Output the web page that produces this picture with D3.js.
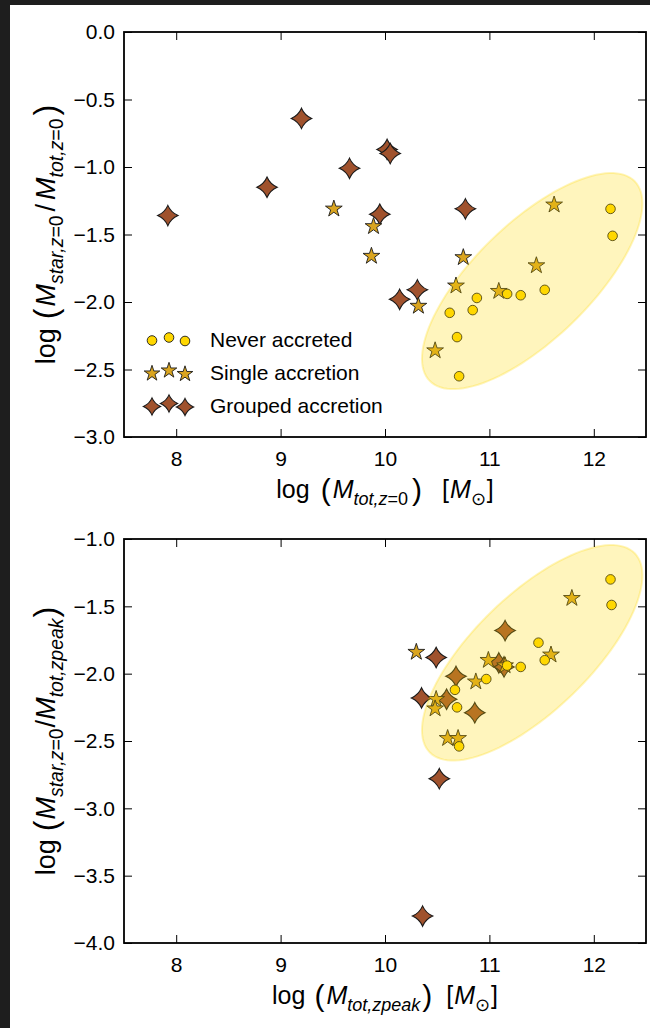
<!DOCTYPE html>
<html>
<head>
<meta charset="utf-8">
<script src="https://cdn.jsdelivr.net/npm/d3@7"></script>
<style>
	body { margin: 0; background: #1e1e1e; }
	svg { display: block; }
</style>
</head>
<body>
<script>

//----------------------------
// Data
//----------------------------

// top panel: x = log Mtot,z=0
var topNeverX = [12.16, 12.18, 11.53, 11.30, 11.17, 10.88, 10.84, 10.62, 10.69, 10.71];
var topNeverY = [-1.31, -1.51, -1.91, -1.95, -1.94, -1.97, -2.06, -2.08, -2.26, -2.55];
var topSingleX = [9.51, 9.89, 9.87, 10.75, 10.68, 10.32, 11.09, 11.62, 11.45, 10.48];
var topSingleY = [-1.31, -1.44, -1.66, -1.67, -1.88, -2.03, -1.92, -1.28, -1.73, -2.36];
var topGroupedX = [7.92, 9.20, 8.87, 9.66, 10.02, 10.05, 9.95, 10.77, 10.14, 10.31];
var topGroupedY = [-1.36, -0.64, -1.15, -1.01, -0.87, -0.90, -1.35, -1.31, -1.98, -1.91];

// bottom panel: x = log Mtot,zpeak
var botNeverX = [12.16, 12.17, 11.47, 11.53, 11.30, 11.17, 10.97, 10.67, 10.69, 10.71];
var botNeverY = [-1.30, -1.49, -1.77, -1.90, -1.95, -1.94, -2.04, -2.12, -2.25, -2.54];
var botSingleX = [10.30, 11.79, 11.59, 10.99, 11.15, 10.87, 10.49, 10.48, 10.60, 10.70];
var botSingleY = [-1.84, -1.44, -1.86, -1.90, -1.94, -2.06, -2.19, -2.26, -2.48, -2.48];
var botGroupedX = [10.49, 11.15, 11.09, 11.14, 10.68, 10.35, 10.59, 10.86, 10.52, 10.36];
var botGroupedY = [-1.88, -1.68, -1.92, -1.95, -2.02, -2.18, -2.19, -2.29, -2.78, -3.80];

// shaded ellipse: centre and two conjugate semi-axis vectors, data units
var ellCentre = [11.41, -1.845];
var ellAxisA = [0.982, 0.739];
var ellAxisB = [0.388, -0.307];

var xTicks = [8, 9, 10, 11, 12];
var topYTicks = [0, -0.5, -1, -1.5, -2, -2.5, -3];
var botYTicks = [-1, -1.5, -2, -2.5, -3, -3.5, -4];
var legendLabels = ["Never accreted", "Single accretion", "Grouped accretion"];

//----------------------------
// Layout / style
//----------------------------

var totwidth = 650,
	totheight = 1028,
	plotLeft = 124,
	plotRight = 646,
	colNever = "#ffd700",
	colSingle = "#daa520",
	colGrouped = "#a0522d",
	edgeCol = "#1a1a1a",
	tickFont = "'Liberation Sans', Arial, sans-serif";

var svg = d3.select("body").append("svg")
	.attr("width", totwidth)
	.attr("height", totheight);

// white figure area on dark page
svg.append("rect")
	.attr("x", 10)
	.attr("y", 5)
	.attr("width", totwidth - 10)
	.attr("height", totheight - 5)
	.attr("fill", "white");

//----------------------------
// Marker paths
//----------------------------

function starPath(R) {
	var r = R * 0.382, pts = [];
	for (var k = 0; k < 10; k++) {
		var a = -Math.PI / 2 + k * Math.PI / 5;
		var rr = (k % 2 === 0) ? R : r;
		pts.push([rr * Math.cos(a), rr * Math.sin(a)]);
	}
	return "M" + pts.map(function(p) { return p[0].toFixed(2) + "," + p[1].toFixed(2); }).join("L") + "Z";
}

// four pointed star with concave sides
function sparklePath(R) {
	var k = R * 0.3;
	return "M0," + (-R) +
		"Q" + k + "," + (-k) + " " + R + ",0" +
		"Q" + k + "," + k + " 0," + R +
		"Q" + (-k) + "," + k + " " + (-R) + ",0" +
		"Q" + (-k) + "," + (-k) + " 0," + (-R) + "Z";
}

function drawMarker(g, kind, cx, cy, big) {
	if (kind === "never") {
		g.append("circle")
			.attr("cx", cx).attr("cy", cy)
			.attr("r", 4.8)
			.attr("fill", colNever)
			.attr("stroke", edgeCol)
			.attr("stroke-width", 0.9);
	} else if (kind === "single") {
		g.append("path")
			.attr("d", starPath(big ? 8.8 : 8.2))
			.attr("transform", "translate(" + cx + "," + cy + ")")
			.attr("fill", colSingle)
			.attr("stroke", edgeCol)
			.attr("stroke-width", 0.9)
			.attr("stroke-linejoin", "miter");
	} else {
		g.append("path")
			.attr("d", sparklePath(big ? 10.2 : 8.6))
			.attr("transform", "translate(" + cx + "," + cy + ")")
			.attr("fill", colGrouped)
			.attr("stroke", edgeCol)
			.attr("stroke-width", 1.1);
	}
}

//----------------------------
// Math-ish label builder
//----------------------------

function mathLabel(g, parts, size) {
	var text = g.append("text")
		.attr("font-family", tickFont)
		.attr("font-size", size)
		.attr("fill", "black")
		.attr("text-anchor", "middle");
	var shift = 0;
	parts.forEach(function(p) {
		var want = p.sub ? size * 0.28 : (p.big ? size * 0.06 : 0);
		var ts = text.append("tspan")
			.attr("dy", want - shift)
			.attr("font-size", p.sub ? size * 0.72 : (p.big ? size * 1.2 : size))
			.attr("font-style", p.it ? "italic" : "normal")
			.text(p.t);
		if (p.sp) ts.attr("dx", p.sp);
		shift = want;
	});
	return text;
}

//----------------------------
// Panel routine
//----------------------------

function drawPanel(cfg) {

	var x = d3.scaleLinear().domain([7.5, 12.5]).range([plotLeft, plotRight]);
	var y = d3.scaleLinear().domain(cfg.ydomain).range([cfg.bottom, cfg.top]);

	var g = svg.append("g");

	// points: grouped first, then single, then never
	var pts = g.append("g").attr("class", "points");
	cfg.grouped[0].forEach(function(d, i) { drawMarker(pts, "grouped", x(d), y(cfg.grouped[1][i]), true); });
	cfg.single[0].forEach(function(d, i) { drawMarker(pts, "single", x(d), y(cfg.single[1][i]), true); });
	cfg.never[0].forEach(function(d, i) { drawMarker(pts, "never", x(d), y(cfg.never[1][i]), true); });

	// translucent ellipse on top
	var ell = d3.range(0, 361, 3).map(function(deg) {
		var t = deg * Math.PI / 180;
		return [x(ellCentre[0] + Math.cos(t) * ellAxisA[0] + Math.sin(t) * ellAxisB[0]),
				y(ellCentre[1] + Math.cos(t) * ellAxisA[1] + Math.sin(t) * ellAxisB[1])];
	});
	g.append("path")
		.attr("d", d3.line().curve(d3.curveLinearClosed)(ell))
		.attr("fill", colNever)
		.attr("fill-opacity", 0.26)
		.attr("stroke", colNever)
		.attr("stroke-opacity", 0.26)
		.attr("stroke-width", 2);

	// axes, ticks inside on all four sides
	var fmt = function(v) { return d3.format(".1f")(v).replace("-", "\u2212"); };

	g.append("g")
		.attr("transform", "translate(0," + cfg.bottom + ")")
		.call(d3.axisBottom(x).tickValues(xTicks).tickSize(-8).tickPadding(14).tickFormat(d3.format("d")));
	g.append("g")
		.attr("transform", "translate(0," + cfg.top + ")")
		.call(d3.axisTop(x).tickValues(xTicks).tickSize(-8).tickFormat(""));
	g.append("g")
		.attr("transform", "translate(" + plotLeft + ",0)")
		.call(d3.axisLeft(y).tickValues(cfg.yticks).tickSize(-8).tickPadding(9).tickFormat(fmt));
	g.append("g")
		.attr("transform", "translate(" + plotRight + ",0)")
		.call(d3.axisRight(y).tickValues(cfg.yticks).tickSize(-8).tickFormat(""));

	g.selectAll(".domain").remove();
	g.selectAll(".tick line").attr("stroke", "black").attr("stroke-width", 1);
	g.selectAll(".tick text")
		.attr("font-family", tickFont)
		.attr("font-size", 21)
		.attr("fill", "black");

	// frame
	g.append("rect")
		.attr("x", plotLeft)
		.attr("y", cfg.top)
		.attr("width", plotRight - plotLeft)
		.attr("height", cfg.bottom - cfg.top)
		.attr("fill", "none")
		.attr("stroke", "black")
		.attr("stroke-width", 1.8);

	// axis labels
	mathLabel(g, cfg.xlabel, 25)
		.attr("x", (plotLeft + plotRight) / 2)
		.attr("y", cfg.bottom + 61);

	mathLabel(g, cfg.ylabel, 27)
		.attr("transform", "translate(55," + ((cfg.top + cfg.bottom) / 2) + ") rotate(-90)");

	return g;
}

var topPanel = drawPanel({
	top: 32, bottom: 437, ydomain: [-3, 0], yticks: topYTicks,
	never: [topNeverX, topNeverY], single: [topSingleX, topSingleY], grouped: [topGroupedX, topGroupedY],
	xlabel: [{t: "log", sp: 0}, {t: "(", big: true, sp: 11}, {t: "M", it: true, sp: 2}, {t: "tot,z", it: true, sub: true}, {t: "=0", sub: true},
		{t: ")", big: true, sp: 4}, {t: "[", sp: 20}, {t: "M", it: true, sp: 1}, {t: "\u2299", sub: true}, {t: "]", sp: 1}],
	ylabel: [{t: "log"}, {t: "(", big: true, sp: 9}, {t: "M", it: true, sp: 2}, {t: "star,z", it: true, sub: true}, {t: "=0", sub: true},
		{t: "/", sp: 4}, {t: "M", it: true, sp: 4}, {t: "tot,z", it: true, sub: true}, {t: "=0", sub: true}, {t: ")", big: true, sp: 3}]
});

drawPanel({
	top: 539, bottom: 943, ydomain: [-4, -1], yticks: botYTicks,
	never: [botNeverX, botNeverY], single: [botSingleX, botSingleY], grouped: [botGroupedX, botGroupedY],
	xlabel: [{t: "log"}, {t: "(", big: true, sp: 9}, {t: "M", it: true, sp: 2}, {t: "tot,zpeak", it: true, sub: true},
		{t: ")", big: true, sp: 2}, {t: "[", sp: 14}, {t: "M", it: true, sp: 1}, {t: "\u2299", sub: true}, {t: "]", sp: 1}],
	ylabel: [{t: "log"}, {t: "(", big: true, sp: 8}, {t: "M", it: true, sp: 1}, {t: "star,z", it: true, sub: true}, {t: "=0", sub: true},
		{t: "/", sp: 1}, {t: "M", it: true}, {t: "tot,zpeak", it: true, sub: true}, {t: ")", big: true, sp: 1}]
});

//----------------------------
// Legend (top panel, lower left)
//----------------------------

var legendKinds = ["never", "single", "grouped"];
var legendOffsets = [1.5, -1.5, 2];
var legend = topPanel.append("g").attr("class", "legend");

legendLabels.forEach(function(lab, i) {
	var cy = 339 + i * 33;
	[152, 169, 185].forEach(function(cx, j) {
		drawMarker(legend, legendKinds[i], cx, cy + legendOffsets[j], false);
	});
	legend.append("text")
		.attr("x", 210)
		.attr("y", cy)
		.attr("dy", "0.36em")
		.attr("font-family", tickFont)
		.attr("font-size", 21)
		.attr("fill", "black")
		.text(lab);
});

</script>
</body>
</html>
